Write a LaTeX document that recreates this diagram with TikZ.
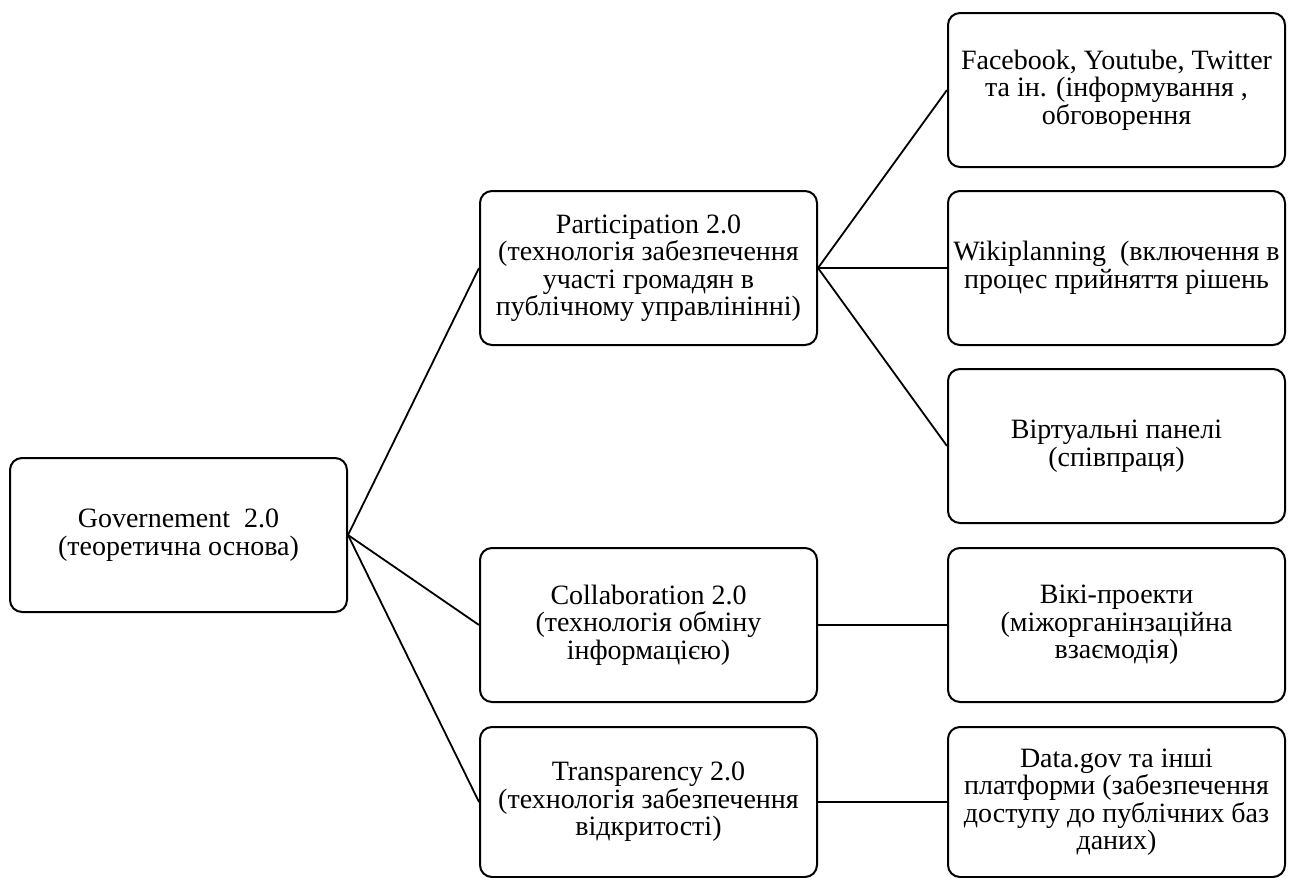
\documentclass[tikz,border=0pt]{standalone}
\usepackage{fontspec}
\setmainfont{Liberation Serif}

\begin{document}
\begin{tikzpicture}
  [x=1pt,y=-1pt,line width=2pt,
   block/.style={draw,rounded corners=12pt,minimum width=337pt,
     minimum height=154pt,inner sep=0pt,align=center,
     font=\fontsize{28}{27.5}\selectfont},
   link/.style={line width=1.8pt}]

  \useasboundingbox (0,0) rectangle (1291,878);

  \node[block] (gov)   at (178.5,535) {Governement\ \ 2.0\\(теоретична основа)};

  \node[block] (part)  at (648.5,268) {Participation 2.0\\(технологія забезпечення\\участі громадян в\\публічному управлінінні)};
  \node[block] (coll)  at (648.5,625) {Collaboration 2.0\\(технологія обміну\\інформацією)};
  \node[block,minimum height=150pt] (trans) at (648.5,802) {Transparency 2.0\\(технологія забезпечення\\відкритості)};

  \node[block] (fb)    at (1116.5,90)  {Facebook, Youtube, Twitter\\та ін. (інформування ,\\обговорення};
  \node[block] (wiki)  at (1116.5,268) {Wikiplanning\ \ (включення в\\процес прийняття рішень};
  \node[block] (virt)  at (1116.5,446) {Віртуальні панелі\\(співпраця)};
  \node[block] (wproj) at (1116.5,625) {Вікі-проекти\\(міжорганінзаційна\\взаємодія)};
  \node[block,minimum height=150pt] (data)  at (1116.5,802) {Data.gov та інші\\платформи (забезпечення\\доступу до публічних баз\\даних)};

  \draw[link] (gov.east) -- (part.west);
  \draw[link] (gov.east) -- (coll.west);
  \draw[link] (gov.east) -- (trans.west);

  \draw[link] (part.east) -- (fb.west);
  \draw[link] (part.east) -- (wiki.west);
  \draw[link] (part.east) -- (virt.west);
  \draw[link] (coll.east) -- (wproj.west);
  \draw[link] (trans.east) -- (data.west);
\end{tikzpicture}
\end{document}
